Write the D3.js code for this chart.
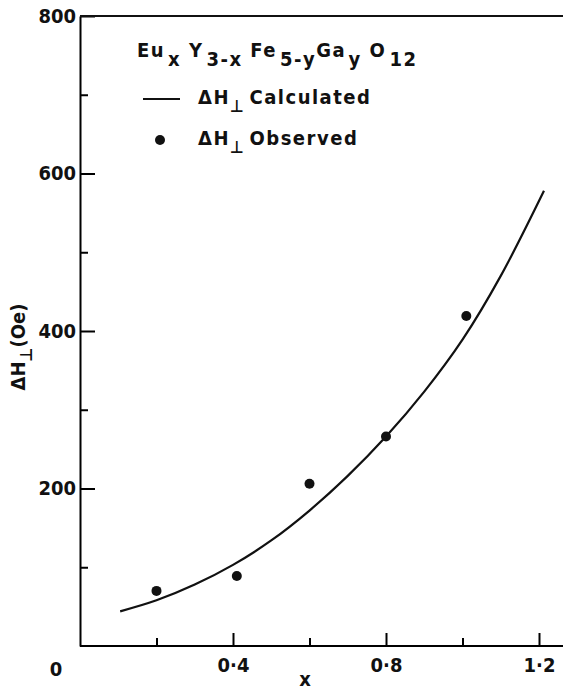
<!DOCTYPE html>
<html>
<head>
<meta charset="utf-8">
<script src="https://cdn.jsdelivr.net/npm/d3@7"></script>
<style>
  body { margin: 0; background: #fff; }
  svg text { font-family: "DejaVu Sans Condensed", "DejaVu Sans", sans-serif; font-weight: 600; fill: #111; }
</style>
</head>
<body>
<script>
// observed points (x, dH in Oe)
const obsX = [0.2, 0.41, 0.6, 0.8, 1.01];
const obsY = [70, 89, 206, 266, 419];

// calculated curve
const calcX = [0.105, 0.2, 0.3, 0.4, 0.5, 0.6, 0.7, 0.8, 0.9, 1.0, 1.1, 1.213];
const calcY = [44, 58, 78, 103, 134, 172, 216, 266, 323, 389, 470, 578];

const xMajor = [0.4, 0.8, 1.2];
const xMinor = [0.2, 0.6, 1.0];
const yMajor = [200, 400, 600, 800];
const yMinor = [100, 300, 500, 700];

const width = 563, height = 692;

const svg = d3.select("body").append("svg")
    .attr("width", width)
    .attr("height", height);

const x = d3.scaleLinear().domain([0, 1.2]).range([80, 539]);
const y = d3.scaleLinear().domain([0, 800]).range([646, 16]);

// left axis, ticks pointing inward
svg.append("g")
    .attr("transform", "translate(" + x(0) + ",0)")
    .call(d3.axisLeft(y).tickValues(yMajor).tickSizeInner(-15).tickSizeOuter(0).tickPadding(4))
    .call(g => g.select(".domain").attr("stroke-width", 2))
    .call(g => g.selectAll(".tick line").attr("stroke-width", 2))
    .call(g => g.selectAll(".tick text").attr("font-size", 20));

svg.append("g")
    .attr("transform", "translate(" + x(0) + ",0)")
    .call(d3.axisLeft(y).tickValues(yMinor).tickSizeInner(-8).tickSizeOuter(0).tickFormat(""))
    .call(g => g.select(".domain").remove())
    .call(g => g.selectAll(".tick line").attr("stroke-width", 2));

// bottom axis
svg.append("g")
    .attr("transform", "translate(0," + y(0) + ")")
    .call(d3.axisBottom(x).tickValues(xMajor).tickSizeInner(-13).tickSizeOuter(0).tickPadding(12)
        .tickFormat(d => d3.format(".1f")(d).replace(".", "·")))
    .call(g => g.select(".domain").attr("d", "M" + x(0) + ",0H" + width).attr("stroke-width", 2))
    .call(g => g.selectAll(".tick line").attr("stroke-width", 2))
    .call(g => g.selectAll(".tick text").attr("font-size", 20));

svg.append("g")
    .attr("transform", "translate(0," + y(0) + ")")
    .call(d3.axisBottom(x).tickValues(xMinor).tickSizeInner(-8).tickSizeOuter(0).tickFormat(""))
    .call(g => g.select(".domain").remove())
    .call(g => g.selectAll(".tick line").attr("stroke-width", 2));

// top border
svg.append("line")
    .attr("x1", x(0)).attr("x2", width)
    .attr("y1", y(800)).attr("y2", y(800))
    .attr("stroke", "#111").attr("stroke-width", 2);

// origin label
svg.append("text")
    .attr("x", 56).attr("y", 676)
    .attr("text-anchor", "middle")
    .attr("font-size", 20)
    .text("0");

// axis titles
svg.append("text")
    .attr("x", 305).attr("y", 686)
    .attr("text-anchor", "middle")
    .attr("font-size", 20)
    .text("x");

const yTitle = svg.append("text")
    .attr("transform", "translate(25,347) rotate(-90)")
    .attr("text-anchor", "middle")
    .attr("font-size", 20);
yTitle.append("tspan").text("ΔH");
yTitle.append("tspan").attr("dy", 7).attr("font-size", 17).text("⊥");
yTitle.append("tspan").attr("dy", -7).text("(Oe)");

// calculated curve
const line = d3.line()
    .x((d, i) => x(calcX[i]))
    .y(d => y(d))
    .curve(d3.curveCatmullRom);

svg.append("path")
    .datum(calcY)
    .attr("d", line)
    .attr("fill", "none")
    .attr("stroke", "#111")
    .attr("stroke-width", 2.2);

// observed points
svg.selectAll(".obs")
    .data(obsY)
    .enter().append("circle")
    .attr("class", "obs")
    .attr("cx", (d, i) => x(obsX[i]))
    .attr("cy", d => y(d))
    .attr("r", 5)
    .attr("fill", "#111");

// legend
const formula = svg.append("text")
    .attr("x", 137).attr("y", 57)
    .attr("font-size", 20)
    .attr("letter-spacing", 1.5);
[["Eu", 0], ["x", 1], [" Y", 0], ["3-x", 1], [" Fe", 0], ["5-y", 1], ["Ga", 0], ["y", 1], [" O", 0], ["12", 1]]
    .forEach(([t, sub], i, arr) => {
        const prev = i > 0 ? arr[i - 1][1] : 0;
        formula.append("tspan")
            .attr("dx", sub ? 3 : 0)
            .attr("dy", (sub - prev) * 9)
            .text(t);
    });

svg.append("line")
    .attr("x1", 143).attr("x2", 180)
    .attr("y1", 99).attr("y2", 99)
    .attr("stroke", "#111").attr("stroke-width", 2);

svg.append("circle")
    .attr("cx", 160).attr("cy", 140).attr("r", 5).attr("fill", "#111");

[["Calculated", 104], ["Observed", 145]].forEach(([label, yy]) => {
    const t = svg.append("text")
        .attr("x", 198).attr("y", yy)
        .attr("font-size", 20)
        .attr("letter-spacing", 1.5);
    t.append("tspan").text("ΔH");
    t.append("tspan").attr("dy", 8).attr("font-size", 17).text("⊥");
    t.append("tspan").attr("dy", -8).attr("dx", 4).text(label);
});
</script>
</body>
</html>
